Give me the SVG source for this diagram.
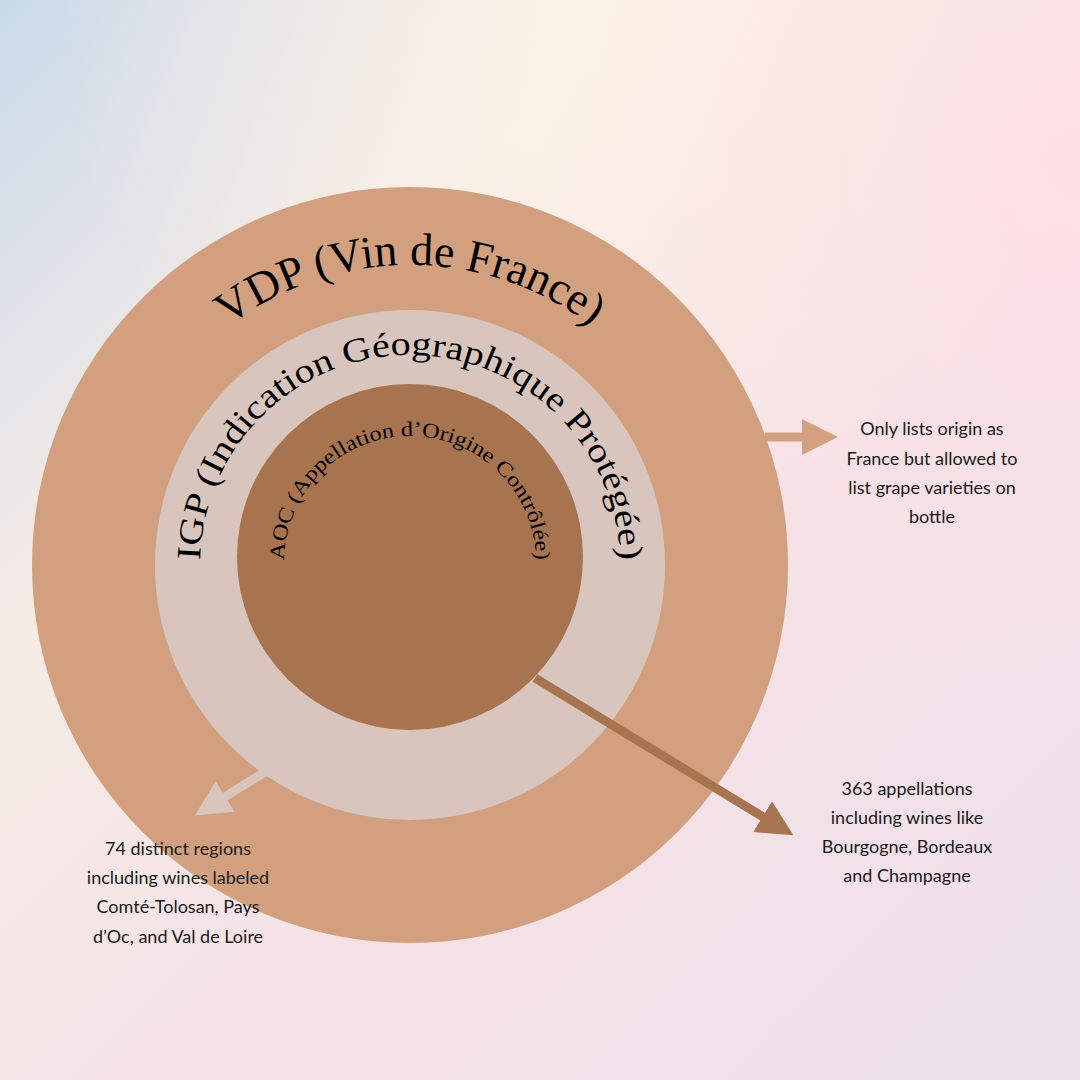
<svg xmlns="http://www.w3.org/2000/svg" width="1080" height="1080" viewBox="0 0 1080 1080">
<defs>
<linearGradient id="bg" x1="0" y1="0" x2="1" y2="1">
<stop offset="0" stop-color="#c9d9ea"/>
<stop offset="0.3" stop-color="#f6ece6"/>
<stop offset="0.6" stop-color="#f5e2e6"/>
<stop offset="1" stop-color="#ede0ea"/>
</linearGradient>
<radialGradient id="warm" cx="0.55" cy="0" r="0.5">
<stop offset="0" stop-color="#fdf3e6" stop-opacity="0.9"/>
<stop offset="1" stop-color="#fdf3e6" stop-opacity="0"/>
</radialGradient>
<radialGradient id="pink" cx="1" cy="0.15" r="0.5">
<stop offset="0" stop-color="#fde0e4" stop-opacity="0.9"/>
<stop offset="1" stop-color="#fde0e4" stop-opacity="0"/>
</radialGradient>
<marker id="a1" viewBox="0 0 10 10" refX="5" refY="5" markerWidth="4" markerHeight="4" orient="auto"><path d="M0,0 L10,5 L0,10 z" fill="#d2a07f"/></marker>
<marker id="a2" viewBox="0 0 10 10" refX="5" refY="5" markerWidth="4" markerHeight="4" orient="auto"><path d="M0,0 L10,5 L0,10 z" fill="#a8734f"/></marker>
<marker id="a3" viewBox="0 0 10 10" refX="5" refY="5" markerWidth="4" markerHeight="4" orient="auto"><path d="M0,0 L10,5 L0,10 z" fill="#d8c5bd"/></marker>
<path id="p1" d="M110,565 A300,300 0 0 1 710,565"/>
<path id="p2" d="M200,565 A210,210 0 0 1 620,565"/>
<path id="p3" d="M284,562 A126,126 0 0 1 536,562"/>
<style>
.t{font-family:"Liberation Serif",serif;fill:#000}
.l{font-family:"Lato","Open Sans",sans-serif;font-size:18px;fill:#1a1a1a;text-anchor:middle}
</style>
</defs>
<rect width="1080" height="1080" fill="url(#bg)"/>
<rect width="1080" height="1080" fill="url(#warm)"/>
<rect width="1080" height="1080" fill="url(#pink)"/>
<g id="vdp"><circle cx="410" cy="565" r="378" fill="#d2a07f"/>
<text class="t" font-size="46"><textPath href="#p1" startOffset="50%" text-anchor="middle">VDP (Vin de France)</textPath></text></g>
<g id="igp"><circle cx="410" cy="565" r="255" fill="#d8c5bd"/>
<text class="t" font-size="34"><textPath href="#p2" startOffset="50%" text-anchor="middle" textLength="650" lengthAdjust="spacingAndGlyphs">IGP (Indication Géographique Protégée)</textPath></text></g>
<g id="aoc"><circle cx="410" cy="557" r="173" fill="#a8734f"/>
<text class="t" font-size="21"><textPath href="#p3" startOffset="50%" text-anchor="middle" textLength="392" lengthAdjust="spacingAndGlyphs">AOC (Appellation d’Origine Contrôlée)</textPath></text></g>
<g id="connectors" stroke-width="9" fill="none">
<line x1="765" y1="437" x2="820" y2="437" stroke="#d2a07f" marker-end="url(#a1)"/>
<line x1="535" y1="678" x2="778" y2="826" stroke="#a8734f" marker-end="url(#a2)"/>
<line x1="265" y1="772" x2="210" y2="806" stroke="#d8c5bd" marker-end="url(#a3)"/>
</g>
<g id="label-vdp"><text class="l"><tspan x="932" y="435">Only lists origin as</tspan><tspan x="932" y="465">France but allowed to</tspan><tspan x="932" y="494">list grape varieties on</tspan><tspan x="932" y="523">bottle</tspan></text></g>
<g id="label-aoc"><text class="l"><tspan x="907" y="795">363 appellations</tspan><tspan x="907" y="824">including wines like</tspan><tspan x="907" y="853">Bourgogne, Bordeaux</tspan><tspan x="907" y="882">and Champagne</tspan></text></g>
<g id="label-igp"><text class="l"><tspan x="178" y="855">74 distinct regions</tspan><tspan x="178" y="884">including wines labeled</tspan><tspan x="178" y="913">Comté-Tolosan, Pays</tspan><tspan x="178" y="943">d’Oc, and Val de Loire</tspan></text></g>
</svg>
